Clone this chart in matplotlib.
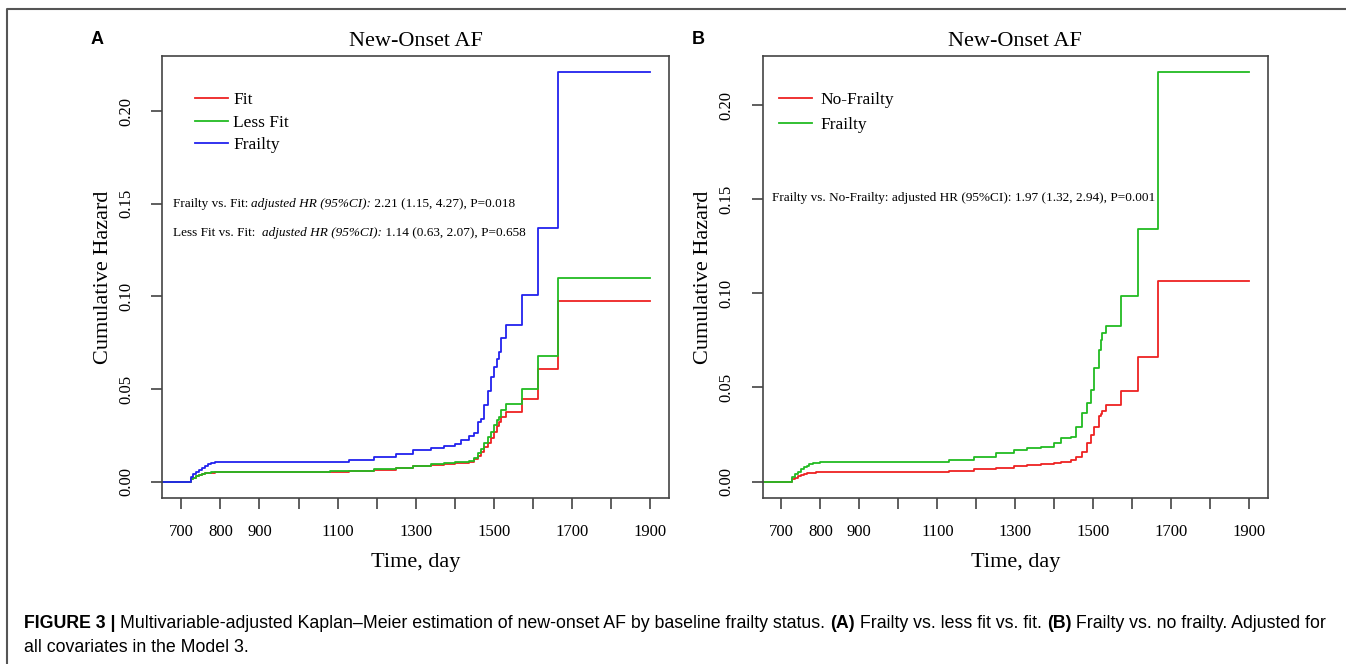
import matplotlib
matplotlib.use("Agg")
import matplotlib.pyplot as plt

# Panel A: cumulative hazard by frailty status (three groups)
time_a = [0, 718, 724, 730, 737, 745, 752, 760, 768, 775, 787, 800, 1080, 1130, 1192,
          1250, 1294, 1340, 1371, 1400, 1415, 1436, 1448, 1458, 1466, 1475, 1484, 1492,
          1500, 1507, 1513, 1519, 1530, 1571, 1613, 1664, 1900]
fit_a = [0, 0, 0.0012, 0.0020, 0.0028, 0.0035, 0.0040, 0.0044, 0.0046, 0.0048, 0.0050,
         0.0051, 0.0052, 0.0057, 0.0065, 0.0073, 0.0082, 0.0090, 0.0094, 0.0099, 0.0102,
         0.0106, 0.0122, 0.0140, 0.0160, 0.0185, 0.0210, 0.0234, 0.0270, 0.0300, 0.0324,
         0.0350, 0.0377, 0.0446, 0.0606, 0.0974, 0.0974]
lessfit_a = [0, 0, 0.0012, 0.0020, 0.0029, 0.0036, 0.0041, 0.0045, 0.0048, 0.0050, 0.0052,
             0.0053, 0.0055, 0.0060, 0.0068, 0.0076, 0.0086, 0.0094, 0.0099, 0.0104,
             0.0106, 0.0110, 0.0130, 0.0153, 0.0175, 0.0207, 0.0240, 0.0270, 0.0306,
             0.0330, 0.0350, 0.0387, 0.0419, 0.0500, 0.0680, 0.1100, 0.1100]
frailty_a = [0, 0, 0.0025, 0.0040, 0.0053, 0.0065, 0.0076, 0.0085, 0.0093, 0.0099, 0.0104,
             0.0108, 0.0108, 0.0118, 0.0131, 0.0150, 0.0171, 0.0183, 0.0194, 0.0205,
             0.0225, 0.0245, 0.0260, 0.0324, 0.0340, 0.0413, 0.0490, 0.0566, 0.0617,
             0.0660, 0.0701, 0.0773, 0.0845, 0.1006, 0.1370, 0.2209, 0.2209]

# Panel B: frailty vs no frailty
time_b = [0, 721, 727, 735, 742, 750, 757, 765, 772, 780, 790, 800, 1082, 1130, 1194,
          1250, 1296, 1330, 1365, 1399, 1416, 1442, 1455, 1472, 1484, 1493, 1501, 1514,
          1519, 1523, 1532, 1572, 1615, 1666, 1900]
nofrailty_b = [0, 0, 0.0012, 0.0020, 0.0028, 0.0035, 0.0040, 0.0044, 0.0046, 0.0048,
               0.0049, 0.0050, 0.0052, 0.0057, 0.0066, 0.0074, 0.0083, 0.0088, 0.0093,
               0.0098, 0.0105, 0.0115, 0.0130, 0.0160, 0.0204, 0.0250, 0.0292, 0.0349,
               0.0360, 0.0375, 0.0407, 0.0483, 0.0660, 0.1065, 0.1065]
frailty_b = [0, 0, 0.0025, 0.0040, 0.0053, 0.0065, 0.0076, 0.0085, 0.0092, 0.0098, 0.0101,
             0.0103, 0.0104, 0.0115, 0.0130, 0.0150, 0.0168, 0.0178, 0.0186, 0.0204,
             0.0230, 0.0239, 0.0292, 0.0363, 0.0416, 0.0487, 0.0602, 0.0700, 0.0752,
             0.0790, 0.0828, 0.0986, 0.1343, 0.2174, 0.2174]

x_ticks = list(range(700, 2000, 100))
x_labels = ["700", "800", "900", "", "1100", "", "1300", "", "1500", "", "1700", "", "1900"]
y_ticks = [0, 0.05, 0.10, 0.15, 0.20]
y_labels = ["0.00", "0.05", "0.10", "0.15", "0.20"]

RED, GREEN, BLUE = "#ee2222", "#22bb22", "#2222ee"
serif = ["Liberation Serif", "DejaVu Serif"]
sans = ["Liberation Sans", "DejaVu Sans"]
plt.rcParams["font.family"] = serif

fig = plt.figure(figsize=(13.46, 6.64), dpi=100)

# background layer for frame, panel letters and caption (pixel coords)
bg = fig.add_axes([0, 0, 1, 1])
bg.set_xlim(0, 1346)
bg.set_ylim(664, 0)
bg.axis("off")
bg.plot([7, 7, 1346], [664, 9, 9], color="#555555", lw=1.5)
bg.text(97, 40, "A", fontsize=13, fontweight="bold", family=sans, va="center", ha="center")
bg.text(698, 40, "B", fontsize=13, fontweight="bold", family=sans, va="center", ha="center")


def setup(ax, ymax):
    pad = 0.04 * ymax
    ax.set_xlim(700 - 48, 1900 + 48)
    ax.set_ylim(-pad, ymax + pad)
    ax.set_xticks(x_ticks)
    ax.set_xticklabels(x_labels)
    ax.set_yticks(y_ticks)
    ax.set_yticklabels(y_labels, rotation=90, va="center")
    ax.tick_params(axis="x", direction="out", length=8, width=1.1, labelsize=12,
                   color="#333333", pad=11)
    ax.tick_params(axis="y", direction="out", length=8, width=1.1, labelsize=12,
                   color="#333333", pad=12)
    for s in ax.spines.values():
        s.set_linewidth(1.2)
        s.set_color("#444444")
    ax.set_title("New-Onset AF", fontsize=16, pad=7)
    ax.set_xlabel("Time, day", fontsize=16, labelpad=9)
    ax.set_ylabel("Cumulative Hazard", fontsize=16, labelpad=4)


def chain(ax, pieces, x, y, size):
    prev = None
    for txt, style in pieces:
        if prev is None:
            prev = ax.text(x, y, txt, transform=ax.transAxes, va="center",
                           fontsize=size, fontstyle=style)
        else:
            prev = ax.annotate(txt, xy=(1, 0), xycoords=prev, va="bottom",
                               fontsize=size, fontstyle=style)


# Panel A
ax1 = fig.add_axes([0.1207, 0.25, 0.3764, 0.6657])
ax1.plot(time_a, fit_a, drawstyle="steps-post", color=RED, lw=1.3, label="Fit")
ax1.plot(time_a, lessfit_a, drawstyle="steps-post", color=GREEN, lw=1.3, label="Less Fit")
ax1.plot(time_a, frailty_a, drawstyle="steps-post", color=BLUE, lw=1.3, label="Frailty")
setup(ax1, max(frailty_a))
ax1.legend(loc="upper left", bbox_to_anchor=(0.064, 0.918), frameon=False, fontsize=12.5,
           handlelength=1.9, handletextpad=0.3, borderpad=0, borderaxespad=0,
           labelspacing=0.36)
chain(ax1, [("Frailty vs. Fit: ", "normal"), ("adjusted HR (95%CI):", "italic"),
            (" 2.21 (1.15, 4.27), P=0.018", "normal")], 0.02, 0.665, 9.5)
chain(ax1, [("Less Fit vs. Fit:  ", "normal"), ("adjusted HR (95%CI):", "italic"),
            (" 1.14 (0.63, 2.07), P=0.658", "normal")], 0.02, 0.600, 9.5)

# Panel B
ax2 = fig.add_axes([0.5666, 0.25, 0.3754, 0.6657])
ax2.plot(time_b, nofrailty_b, drawstyle="steps-post", color=RED, lw=1.3, label="No-Frailty")
ax2.plot(time_b, frailty_b, drawstyle="steps-post", color=GREEN, lw=1.3, label="Frailty")
setup(ax2, max(frailty_b))
ax2.legend(loc="upper left", bbox_to_anchor=(0.032, 0.918), frameon=False, fontsize=12.5,
           handlelength=1.9, handletextpad=0.5, borderpad=0, borderaxespad=0,
           labelspacing=0.5)
chain(ax2, [("Frailty vs. No-Frailty: adjusted HR (95%CI): 1.97 (1.32, 2.94), P=0.001",
             "normal")], 0.018, 0.679, 9.5)

# caption
cap1 = [("FIGURE 3 | ", "bold"),
        ("Multivariable-adjusted Kaplan\u2013Meier estimation of new-onset AF by baseline "
         "frailty status. ", "normal"),
        ("(A)", "bold"), (" Frailty vs. less fit vs. fit. ", "normal"),
        ("(B)", "bold"), (" Frailty vs. no frailty. Adjusted for", "normal")]
prev = None
for txt, w in cap1:
    if prev is None:
        prev = bg.text(24, 623, txt, fontsize=12.8, fontweight=w, family=sans, va="center")
    else:
        prev = bg.annotate(txt, xy=(1, 0), xycoords=prev, va="bottom", fontsize=12.8,
                           fontweight=w, family=sans)
bg.text(24, 648, "all covariates in the Model 3.", fontsize=12.8, family=sans, va="center")

fig.savefig("out.png", dpi=100)
